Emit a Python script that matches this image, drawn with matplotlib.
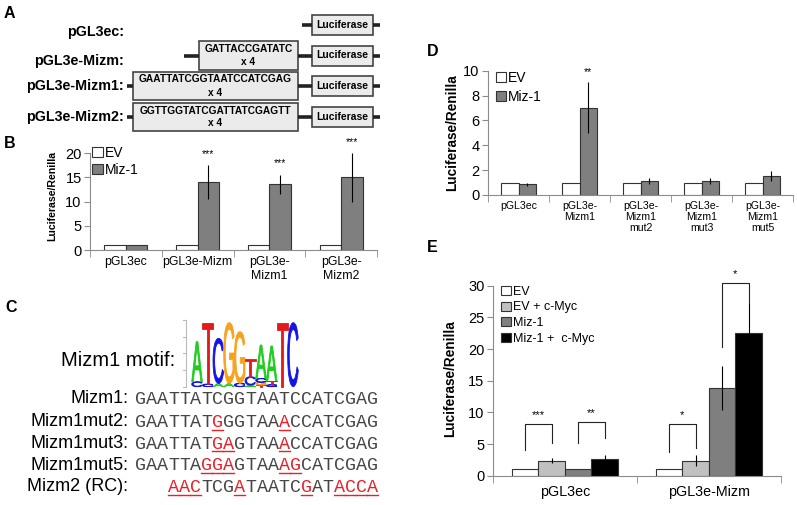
import numpy as np
import matplotlib
matplotlib.use('Agg')
import matplotlib.pyplot as plt
from matplotlib.patches import Rectangle, PathPatch
from matplotlib.textpath import TextPath
from matplotlib.font_manager import FontProperties
from matplotlib.transforms import Affine2D

plt.rcParams['font.family'] = ['Liberation Sans', 'DejaVu Sans']

# ---------------- data ----------------
# panel A: constructs
constructs = ['pGL3ec:', 'pGL3e-Mizm:', 'pGL3e-Mizm1:', 'pGL3e-Mizm2:']
inserts = ['', 'GATTACCGATATC', 'GAATTATCGGTAATCCATCGAG', 'GGTTGGTATCGATTATCGAGTT']

# panel B
b_cats = ['pGL3ec', 'pGL3e-Mizm', 'pGL3e-\nMizm1', 'pGL3e-\nMizm2']
b_ev = [1.0, 1.0, 1.0, 1.0]
b_miz = [1.05, 14.0, 13.6, 15.0]
b_miz_err = [0.0, 3.5, 2.0, 5.1]
b_stars = ['', '***', '***', '***']

# panel C: motif logo (bottom -> top, height in bits) and sequences
logo = [
    [('C', 0.15), ('A', 1.2)],
    [('C', 0.08), ('T', 1.84)],
    [('A', 0.1), ('C', 1.35)],
    [('A', 0.1), ('G', 1.82)],
    [('C', 0.1), ('G', 1.55)],
    [('A', 0.05), ('C', 0.25), ('T', 0.52)],
    [('T', 0.05), ('G', 0.08), ('C', 0.12), ('A', 1.0)],
    [('C', 0.06), ('T', 0.12), ('A', 1.04)],
    [('T', 1.92)],
    [('C', 1.92)],
]
seq_names = ['Mizm1:', 'Mizm1mut2:', 'Mizm1mut3:', 'Mizm1mut5:', 'Mizm2 (RC):']
seqs = ['GAATTATCGGTAATCCATCGAG', 'GAATTATGGGTAAACCATCGAG', 'GAATTATGAGTAAACCATCGAG',
        'GAATTAGGAGTAAAGCATCGAG', 'AACTCGATAATCGATACCA']
seq_offset = [0, 0, 0, 0, 3]
mutated = [[], [7, 13], [7, 8, 13], [6, 7, 8, 13, 14], [0, 1, 2, 6, 12, 15, 16, 17, 18]]

# panel D
d_cats = ['pGL3ec', 'pGL3e-\nMizm1', 'pGL3e-\nMizm1\nmut2', 'pGL3e-\nMizm1\nmut3', 'pGL3e-\nMizm1\nmut5']
d_ev = [1.0, 1.0, 1.0, 1.0, 1.0]
d_miz = [0.88, 7.02, 1.1, 1.12, 1.52]
d_miz_err = [0.12, 2.05, 0.25, 0.22, 0.4]
d_stars = ['', '**', '', '', '']

# panel E
e_cats = ['pGL3ec', 'pGL3e-Mizm']
e_groups = ['EV', 'EV + c-Myc', 'Miz-1', 'Miz-1 +  c-Myc']
e_vals = [[1.0, 1.0], [2.4, 2.4], [1.05, 13.9], [2.65, 22.6]]
e_errs = [[0, 0], [0.4, 0.9], [0, 3.5], [0.6, 4.6]]
# (category, bar a, bar b, bracket top, leg a bottom, leg b bottom, label)
e_brackets = [(0, 0, 1, 8.2, 4.1, 5.2, '***'), (0, 2, 3, 8.5, 5.1, 5.9, '**'),
              (1, 0, 1, 8.2, 3.8, 4.3, '*'), (1, 2, 3, 30.5, 20.3, 27.3, '*')]
e_colors = ['white', '#c0c0c0', '#7f7f7f', 'black']

EDGE = '#333333'
AXC = '#8c8c8c'
MIZ = '#7f7f7f'

fig = plt.figure(figsize=(7.97, 5.05), dpi=100)
ov = fig.add_axes([0, 0, 1, 1])
ov.set_xlim(0, 797)
ov.set_ylim(505, 0)
ov.axis('off')

# panel letters
for lab, (px, py) in zip('ABCDE', [(4, 14), (4, 144), (5, 307), (427, 51), (427, 248)]):
    ov.text(px, py, lab, fontsize=11.5, fontweight='bold', va='center', ha='left')

# ---------------- panel A ----------------
row_y = [25, 55.5, 86, 117]
label_y = [32, 60.5, 86, 116.7]
luc_x0, luc_x1 = 311.7, 373.3
ins_x1 = 297.7
ins_x0 = [None, 199, 133, 133]
line_kw = dict(color='#222222', lw=2.6, solid_capstyle='butt')
for i, name in enumerate(constructs):
    yc = row_y[i]
    ov.text(124, label_y[i], name, ha='right', va='center', fontsize=10.3, fontweight='bold')
    ov.add_patch(Rectangle((luc_x0, yc - 10), luc_x1 - luc_x0, 20, fc='#ebebeb', ec='#444444', lw=1.2))
    ov.text((luc_x0 + luc_x1) / 2, yc, 'Luciferase', ha='center', va='center', fontsize=7.5, fontweight='bold')
    ov.plot([luc_x1, 380], [yc, yc], **line_kw)
    if inserts[i]:
        x0 = ins_x0[i]
        ov.add_patch(Rectangle((x0, yc - 14.2), ins_x1 - x0, 28.4, fc='#ebebeb', ec='#444444', lw=1.2))
        ov.text((x0 + ins_x1) / 2, yc - 6.5, inserts[i], ha='center', va='center', fontsize=7.3, fontweight='bold')
        ov.text((x0 + ins_x1) / 2, yc + 6.5, 'x 4', ha='center', va='center', fontsize=7.3, fontweight='bold')
        ov.plot([x0 - (15 if i == 1 else 6), x0], [yc, yc], **line_kw)
        ov.plot([ins_x1, luc_x0], [yc, yc], **line_kw)
    else:
        ov.plot([301.7, luc_x0], [yc, yc], **line_kw)

# ---------------- panel C ----------------
ov.text(175, 360, 'Mizm1 motif:', ha='right', va='center', fontsize=14.5)
base, bit = 386.7, 33.35
ov.plot([186, 186], [base, base - 2 * bit], color='#bbbbbb', lw=0.8)
for k in range(5):
    ov.plot([183, 186], [base - k * bit / 2] * 2, color='#bbbbbb', lw=0.8)
letter_col = {'A': '#1fcc1f', 'C': '#1414e6', 'G': '#f7a21e', 'T': '#e31a1c'}
fp = FontProperties(family='Liberation Sans', weight='normal')
cw = 10.66
for j, col in enumerate(logo):
    xl = 191.7 + j * cw
    yb = base
    for ch, h in col:
        tp = TextPath((0, 0), ch, size=1, prop=fp)
        bb = tp.get_extents()
        hp = h * bit
        tr = Affine2D().translate(-bb.x0, -bb.y0).scale(cw / bb.width, -hp / bb.height).translate(xl, yb)
        ov.add_patch(PathPatch(tr.transform_path(tp), fc=letter_col[ch], ec=letter_col[ch], lw=0.6))
        yb -= hp

seq_y = [398.3, 421.7, 443.3, 465, 486.7]
chw = 11.05
for i, (nm, s) in enumerate(zip(seq_names, seqs)):
    y = seq_y[i]
    ov.text(128.5, y, nm, ha='right', va='center', fontsize=13)
    for k, ch in enumerate(s):
        x = 135 + (k + seq_offset[i]) * chw
        red = k in mutated[i]
        ov.text(x, y + 1, ch, ha='left', va='center', fontsize=13.2,
                family='Liberation Mono', color='#e8202a' if red else '#454545')
        if red:
            ov.plot([x, x + chw], [y + 8, y + 8], color='#e8202a', lw=1.0)


def style_axes(ax, n):
    ax.spines['top'].set_visible(False)
    ax.spines['right'].set_visible(False)
    ax.spines['left'].set_color(AXC)
    ax.spines['bottom'].set_color(AXC)
    ax.set_xlim(-0.5, n - 0.5)
    ax.set_xticks(np.arange(n))
    ax.set_xticks(np.arange(n + 1) - 0.5, minor=True)
    ax.tick_params(axis='x', which='major', length=0, pad=4)
    ax.tick_params(axis='x', which='minor', length=5, color=AXC)
    ax.tick_params(axis='y', length=4, color=AXC, pad=2)
    ax.set_facecolor('none')


def legend(ax, labels, colors, anchor, fs, spacing):
    handles = [Rectangle((0, 0), 1, 1, fc=c, ec=EDGE, lw=0.8) for c in colors]
    ax.legend(handles, labels, loc='upper left', bbox_to_anchor=anchor, frameon=False,
              handlelength=0.75, handleheight=0.75, handletextpad=0.15, labelspacing=spacing,
              borderpad=0, borderaxespad=0, fontsize=fs)


# ---------------- panel B ----------------
axb = fig.add_axes([90 / 797, 1 - 250 / 505, 287 / 797, 96.7 / 505])
x = np.arange(len(b_cats))
w = 0.3
axb.bar(x - w / 2, b_ev, w, color='white', edgecolor=EDGE, lw=0.8)
axb.bar(x + w / 2, b_miz, w, color=MIZ, edgecolor=EDGE, lw=0.8)
axb.errorbar(x + w / 2, b_miz, yerr=b_miz_err, fmt='none', ecolor='black', elinewidth=0.8)
for xi, v, e, s in zip(x, b_miz, b_miz_err, b_stars):
    if s:
        axb.annotate(s, (xi + w / 2, v + e), xytext=(0, 8), textcoords='offset points',
                     ha='center', va='center', fontsize=7.5, annotation_clip=False)
style_axes(axb, len(b_cats))
axb.set_ylim(0, 20)
axb.set_yticks([0, 5, 10, 15, 20])
axb.set_xticklabels(b_cats, fontsize=8.8, linespacing=1.3)
axb.tick_params(axis='y', labelsize=10.5)
axb.set_ylabel('Luciferase/Renilla', fontsize=7.6, fontweight='bold')
axb.yaxis.set_label_coords(-0.115, 0.56)
legend(axb, ['EV', 'Miz-1'], ['white', MIZ], (0.008, 1.08), 10, 0.25)

# ---------------- panel D ----------------
axd = fig.add_axes([488 / 797, 1 - 195 / 505, 305 / 797, 124.3 / 505])
x = np.arange(len(d_cats))
w = 0.29
axd.bar(x - w / 2, d_ev, w, color='white', edgecolor=EDGE, lw=0.8)
axd.bar(x + w / 2, d_miz, w, color=MIZ, edgecolor=EDGE, lw=0.8)
axd.errorbar(x + w / 2, d_miz, yerr=d_miz_err, fmt='none', ecolor='black', elinewidth=0.8)
for xi, v, e, s in zip(x, d_miz, d_miz_err, d_stars):
    if s:
        axd.annotate(s, (xi + w / 2, v + e), xytext=(0, 7), textcoords='offset points',
                     ha='center', va='center', fontsize=7.5, annotation_clip=False)
style_axes(axd, len(d_cats))
axd.set_ylim(0, 10)
axd.set_yticks([0, 2, 4, 6, 8, 10])
axd.set_xticklabels(d_cats, fontsize=7.6, linespacing=1.15)
axd.tick_params(axis='y', labelsize=10.5)
axd.set_ylabel('Luciferase/Renilla', fontsize=9.8, fontweight='bold')
axd.yaxis.set_label_coords(-0.095, 0.5)
legend(axd, ['EV', 'Miz-1'], ['white', MIZ], (0.025, 1.0), 10, 0.35)

# ---------------- panel E ----------------
axe = fig.add_axes([492.7 / 797, 1 - 475.7 / 505, 288.3 / 797, 190 / 505])
x = np.arange(len(e_cats))
w = 0.184
offs = (np.arange(len(e_groups)) - 1.5) * w
for g in range(len(e_groups)):
    axe.bar(x + offs[g], e_vals[g], w, color=e_colors[g], edgecolor=EDGE, lw=0.8)
    axe.errorbar(x + offs[g], e_vals[g], yerr=e_errs[g], fmt='none', ecolor='black', elinewidth=0.8)
for c, a, b, top, la, lb, s in e_brackets:
    xa, xb = x[c] + offs[a], x[c] + offs[b]
    axe.plot([xa, xa, xb, xb], [la, top, top, lb], color='#222222', lw=0.8, clip_on=False)
    axe.annotate(s, ((xa + xb) / 2, top), xytext=(0, 6), textcoords='offset points',
                 ha='center', va='center', fontsize=8, annotation_clip=False)
style_axes(axe, len(e_cats))
axe.set_ylim(0, 30)
axe.set_yticks([0, 5, 10, 15, 20, 25, 30])
axe.set_xticklabels(e_cats, fontsize=10.3)
axe.tick_params(axis='x', which='major', pad=7)
axe.tick_params(axis='y', labelsize=10.5)
axe.set_ylabel('Luciferase/Renilla', fontsize=9.8, fontweight='bold')
axe.yaxis.set_label_coords(-0.125, 0.51)
legend(axe, e_groups, e_colors, (0.03, 1.0), 9, 0.3)

fig.savefig('out.png', dpi=100)
